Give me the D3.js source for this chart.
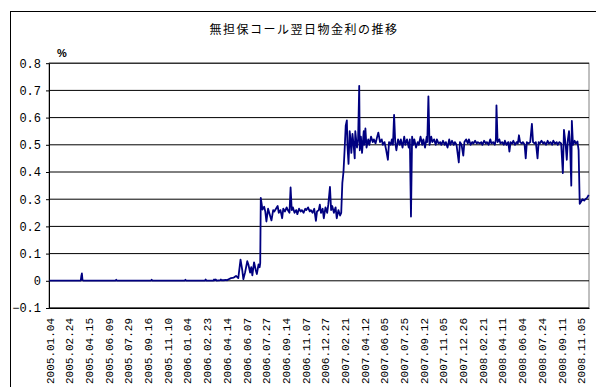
<!DOCTYPE html>
<html>
<head>
<meta charset="utf-8">
<script src="https://cdn.jsdelivr.net/npm/d3@7"></script>
<style>
  html, body { margin: 0; padding: 0; background: #fff; }
  svg { display: block; }
</style>
</head>
<body>
<svg id="chart" width="596" height="387"></svg>
<script>
// Uncollateralized overnight call rate (%), daily trading days from 2005.01.04
const chartTitle = "無担保コール翌日物金利の推移";
const unitLabel = "%";
const totalDays = 960;          // number of trading-day categories on the axis
const labelStep = 35;           // a date label every 35 trading days

const dateLabels = [
  "2005.01.04", "2005.02.24", "2005.04.15", "2005.06.09", "2005.07.29",
  "2005.09.16", "2005.11.10", "2006.01.04", "2006.02.23", "2006.04.14",
  "2006.06.07", "2006.07.27", "2006.09.14", "2006.11.07", "2006.12.27",
  "2007.02.21", "2007.04.12", "2007.06.05", "2007.07.25", "2007.09.12",
  "2007.11.05", "2007.12.26", "2008.02.21", "2008.04.11", "2008.06.04",
  "2008.07.24", "2008.09.11", "2008.11.05"
];

const yTicks = [-0.1, 0, 0.1, 0.2, 0.3, 0.4, 0.5, 0.6, 0.7, 0.8];

// trading-day index of each observation and the rate on that day
const tradingDay = [
  0, 56, 57, 58, 59, 60, 118, 119, 120, 181, 182, 183, 241, 242, 243,
  277, 278, 279, 292, 293, 294, 296, 297, 304, 305, 306, 310, 314, 316,
  318, 323, 328, 332, 336, 340, 343, 345, 348, 352, 354, 357, 359, 361,
  364, 367, 369, 372, 374, 375, 376,
  379, 382, 384, 386, 389, 391, 395, 398, 400, 403, 406, 408, 411, 414,
  416, 419, 422, 424, 427, 429, 431, 433, 436, 439, 441, 444, 447, 449,
  452, 455, 457, 460, 463, 465, 468, 471, 474, 476, 479, 481, 483, 486,
  488, 491, 494, 496, 499, 501, 503, 506, 509, 511, 514, 517, 519,
  521, 523, 525, 527, 529, 530, 532, 534, 535, 537, 539, 541, 543, 544,
  547, 549, 551, 552, 554, 556, 559, 560, 562, 564, 567, 569, 572, 575,
  577, 580, 583, 585, 588, 591, 593, 596, 599, 602, 604, 607, 609, 611,
  613, 615, 617, 620, 623, 625, 628, 631, 633, 636, 639, 641, 643, 645,
  647, 649, 652, 655, 657, 660, 663, 665, 668, 671, 672, 674, 676, 679,
  681, 684, 687, 689, 692, 695, 697, 700, 703, 705, 708, 711, 713, 716,
  719, 721, 724, 728, 730, 733, 736, 738, 741, 744, 746, 749, 752, 754,
  757, 760, 762, 765, 768, 770, 773, 776, 778, 781, 784, 786, 789, 792,
  794, 795, 797, 800, 802, 805, 808, 810, 813, 816, 818, 820, 823, 825,
  828, 831, 833, 835, 837, 840, 842, 845, 847, 849, 852, 855, 858, 860,
  863, 865, 868, 870, 872, 875, 878, 880, 883, 886, 888, 891, 894, 896,
  899, 902, 904, 907, 910, 913, 915, 918, 920, 922, 924, 926, 928, 929,
  931, 934, 936, 939, 941, 943, 945, 948, 951, 953, 956, 959
];

const callRate = [
  0.001, 0.001, 0.018, 0.027, 0.004, 0.001, 0.001, 0.004, 0.001, 0.001, 0.004, 0.001, 0.001, 0.004, 0.001,
  0.001, 0.005, 0.001, 0.001, 0.005, 0.002, 0.005, 0.001, 0.002, 0.005, 0.002, 0.002, 0.003, 0.002,
  0.005, 0.010, 0.012, 0.018, 0.010, 0.078, 0.040, 0.006, 0.030, 0.072, 0.060, 0.030, 0.050, 0.020,
  0.068, 0.040, 0.025, 0.060, 0.050, 0.065, 0.305,
  0.262, 0.272, 0.255, 0.218, 0.265, 0.250, 0.222, 0.260, 0.255, 0.265, 0.275, 0.250, 0.260, 0.230,
  0.265, 0.255, 0.270, 0.260, 0.250, 0.343, 0.260, 0.270, 0.250, 0.260, 0.245, 0.265, 0.255, 0.260,
  0.250, 0.265, 0.260, 0.270, 0.255, 0.260, 0.250, 0.265, 0.220, 0.255, 0.260, 0.280, 0.250, 0.265,
  0.230, 0.270, 0.250, 0.280, 0.345, 0.260, 0.275, 0.250, 0.270, 0.230, 0.260, 0.240, 0.250,
  0.360, 0.400, 0.480, 0.570, 0.590, 0.500, 0.430, 0.550, 0.530, 0.470, 0.540, 0.500, 0.450, 0.550,
  0.490, 0.520, 0.717, 0.480, 0.530, 0.470, 0.550, 0.500, 0.560, 0.490, 0.520, 0.500, 0.530, 0.510,
  0.520, 0.505, 0.530, 0.545, 0.510, 0.520, 0.500, 0.510, 0.480, 0.445, 0.510, 0.500, 0.520, 0.500,
  0.610, 0.510, 0.480, 0.520, 0.500, 0.520, 0.490, 0.530, 0.500, 0.520, 0.490, 0.520, 0.236, 0.530,
  0.500, 0.520, 0.490, 0.510, 0.500, 0.530, 0.500, 0.520, 0.490, 0.530, 0.510, 0.678, 0.500, 0.530,
  0.510, 0.520, 0.500, 0.520, 0.505, 0.510, 0.500, 0.515, 0.500, 0.510, 0.490, 0.520, 0.500, 0.515,
  0.500, 0.510, 0.500, 0.435, 0.510, 0.500, 0.460, 0.510, 0.520, 0.505, 0.520, 0.500, 0.510, 0.505,
  0.515, 0.505, 0.510, 0.505, 0.510, 0.500, 0.515, 0.505, 0.510, 0.500, 0.520, 0.505, 0.510, 0.500,
  0.520, 0.645, 0.510, 0.520, 0.505, 0.510, 0.500, 0.515, 0.500, 0.510, 0.475, 0.510, 0.505, 0.515,
  0.500, 0.510, 0.505, 0.535, 0.510, 0.505, 0.510, 0.500, 0.450, 0.510, 0.505, 0.510, 0.577, 0.510,
  0.505, 0.510, 0.450, 0.510, 0.505, 0.515, 0.505, 0.510, 0.500, 0.515, 0.505, 0.510, 0.500, 0.515,
  0.505, 0.510, 0.500, 0.510, 0.505, 0.396, 0.555, 0.500, 0.445, 0.520, 0.550, 0.490, 0.350, 0.588,
  0.500, 0.515, 0.505, 0.512, 0.480, 0.283, 0.290, 0.300, 0.295, 0.300, 0.305, 0.316
];

const series = tradingDay.map((d, i) => [d, callRate[i]]);

const svg = d3.select("#chart");
const plot = { left: 49, right: 589, top: 63.2, bottom: 308 };

// outer chart frame
svg.append("rect")
  .attr("x", 10.5).attr("y", 11.5)
  .attr("width", 620).attr("height", 420)
  .attr("fill", "#fff").attr("stroke", "#000").attr("stroke-width", 1);

svg.append("text")
  .attr("x", 304).attr("y", 33.5)
  .attr("text-anchor", "middle")
  .attr("font-family", "'Noto Sans CJK JP', sans-serif")
  .attr("font-size", 12)
  .attr("letter-spacing", 1.5)
  .attr("fill", "#000")
  .text(chartTitle);

svg.append("text")
  .attr("x", 57).attr("y", 57)
  .attr("font-family", "'Liberation Sans', Arial, sans-serif")
  .attr("font-size", 11)
  .attr("font-weight", "bold")
  .attr("fill", "#000")
  .text(unitLabel);

const x = d3.scaleLinear().domain([0, totalDays]).range([plot.left, plot.right]);
const y = d3.scaleLinear().domain([-0.1, 0.8]).range([plot.bottom, plot.top]);

// plot area border
svg.append("rect")
  .attr("x", plot.left).attr("y", plot.top)
  .attr("width", plot.right - plot.left).attr("height", plot.bottom - plot.top)
  .attr("fill", "none").attr("stroke", "#808080").attr("stroke-width", 1);

// horizontal gridlines
svg.append("g")
  .selectAll("line")
  .data(yTicks)
  .join("line")
  .attr("x1", plot.left).attr("x2", plot.right)
  .attr("y1", d => y(d)).attr("y2", d => y(d))
  .attr("stroke", "#000").attr("stroke-width", 1);

// y axis
const fmt = d3.format(".1f");
const yAxis = svg.append("g")
  .attr("transform", `translate(${plot.left},0)`)
  .call(d3.axisLeft(y).tickValues(yTicks).tickSize(3).tickSizeOuter(0)
    .tickFormat(d => d === 0 ? "0" : fmt(d)));
yAxis.select(".domain").attr("stroke", "#000");
yAxis.selectAll(".tick line").attr("stroke", "#000");
yAxis.selectAll("text")
  .attr("x", -8)
  .attr("font-family", "'Liberation Mono', monospace")
  .attr("font-size", 12)
  .attr("fill", "#000");

// x axis with rotated date labels
const labelIdx = dateLabels.map((_, k) => k * labelStep);
const xAxis = svg.append("g")
  .attr("transform", `translate(0,${plot.bottom})`)
  .call(d3.axisBottom(x).tickValues(labelIdx.map(i => i + 0.5))
    .tickSize(0).tickSizeOuter(0)
    .tickFormat((d, k) => dateLabels[k]));
xAxis.select(".domain").attr("stroke", "#000");
xAxis.selectAll("text")
  .attr("transform", "rotate(-90)")
  .attr("text-anchor", "end")
  .attr("x", -10).attr("y", 0)
  .attr("dy", "0.35em")
  .attr("font-family", "'Liberation Mono', monospace")
  .attr("font-size", 11)
  .attr("fill", "#000");

// rate line
const line = d3.line()
  .x(d => x(d[0] + 0.5))
  .y(d => y(d[1]));

svg.append("path")
  .datum(series)
  .attr("d", line)
  .attr("fill", "none")
  .attr("stroke", "#000080")
  .attr("stroke-width", 1.8)
  .attr("stroke-linejoin", "round");
</script>
</body>
</html>
